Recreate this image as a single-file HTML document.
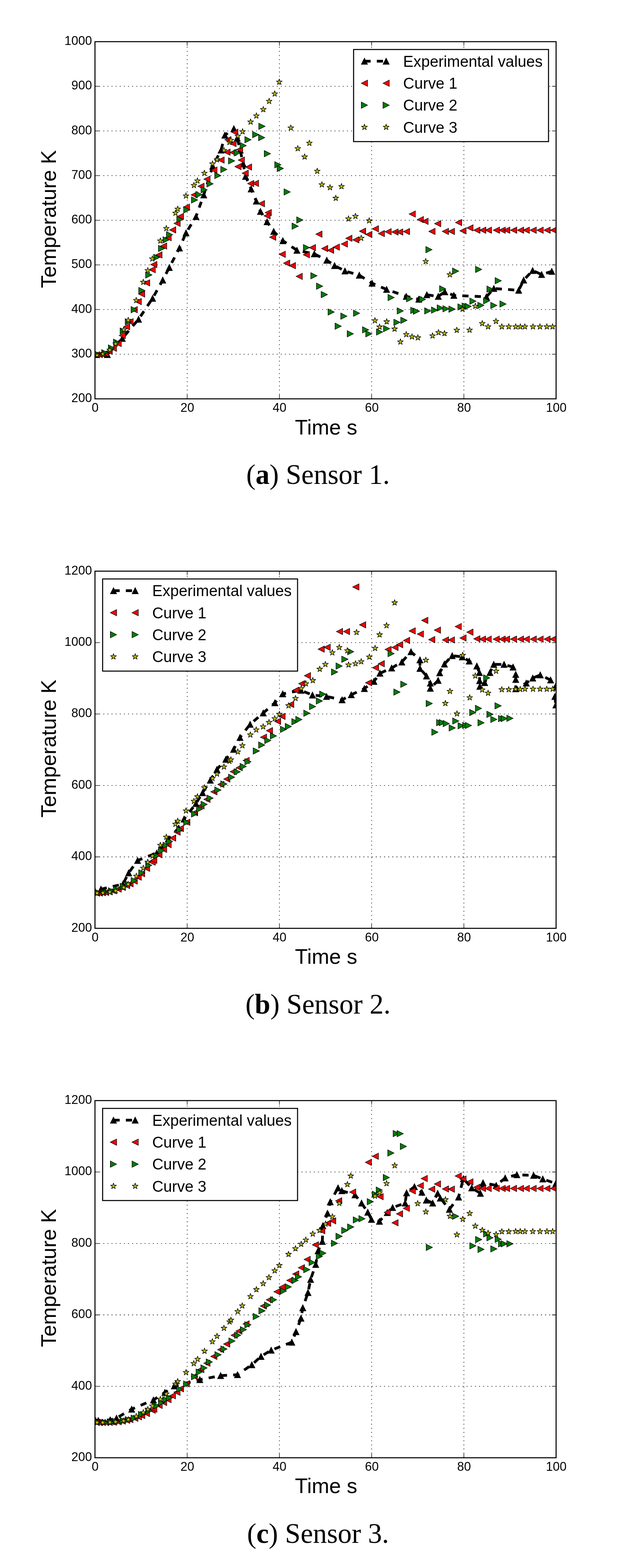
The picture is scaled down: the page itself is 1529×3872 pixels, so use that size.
<!DOCTYPE html>
<html lang="en"><head><meta charset="utf-8"><title>Temperature curves - Sensors 1 to 3</title>
<style>
html,body{margin:0;padding:0;background:#fff}
body{width:1529px;height:3872px;overflow:hidden}
svg{display:block}
text{font-family:"Liberation Sans",sans-serif;fill:#000}
.tk{font-size:30.6px}
.al{font-size:52px}
.lg{font-size:38.27px}
.cap{font-family:"Liberation Serif",serif;font-size:69px}
.sp{fill:none;stroke:#000;stroke-width:2.55;stroke-linecap:square;stroke-linejoin:miter}
.gr{fill:none;stroke:#000;stroke-width:1.28;stroke-dasharray:2.55 7.65}
.ti{fill:none;stroke:#000;stroke-width:1.28}
.ex{fill:none;stroke:#000;stroke-width:6.8;stroke-dasharray:15.3 15.3;stroke-linejoin:round}
.m{stroke:#000;stroke-width:1.28;stroke-linejoin:miter}
</style></head><body>
<svg width="1529" height="3872" viewBox="0 0 1529 3872">
<defs>
<polygon id="mu" class="m" fill="#000" points="0,-7.7 -7.7,7.7 7.7,7.7"/>
<polygon id="ml" class="m" fill="#f00" points="-7.7,0 7.7,-7.7 7.7,7.7"/>
<polygon id="mr" class="m" fill="#008000" points="7.7,0 -7.7,-7.7 -7.7,7.7"/>
<polygon id="ms" class="m" fill="#bfbf00" style="stroke-linejoin:round" points="0,-7.7 1.7,-2.4 7.3,-2.4 2.8,0.9 4.5,6.2 0,2.9 -4.5,6.2 -2.8,0.9 -7.3,-2.4 -1.7,-2.4"/>
</defs>
<rect x="0" y="0" width="1529" height="3872" fill="#fff"/>
<g id="chart1">
<clipPath id="cp0"><rect x="234.6" y="102.9" width="1139" height="882"/></clipPath>
<g clip-path="url(#cp0)">
<polyline class="ex" stroke-dashoffset="29.4" points="236,875.7 265.1,875.7 302.1,835.6 342.2,788.4 376.9,736.7 402,691.6 418.2,660.6 443.3,612.5 459.5,575.1 484.1,535 503.3,481.3 525.4,410.5 546.1,370.7 555.5,333.8 577.7,317.8 585.9,341.2 593.3,370.7 600.7,404.6 606.6,435.6 620.4,466.6 633.1,496.7 643.4,522.1 659.7,547.7 676,571.5 698.7,594.5 733.5,618.1 776.3,627 807.2,642.6 826.4,655.9 852.1,669.2 887.5,679.6 919,699.4 954.9,714.7 1003.5,731.9 1034.5,738.9 1054.3,728 1082.6,731.9 1098.8,720.6 1121,729.5 1201.5,733 1219.8,712.4 1281.2,716.8 1293.5,691.7 1315.7,668.1 1337.8,677.9 1362.9,670.2"/>
<use href="#mu" x="236" y="875.7"/><use href="#mu" x="265.1" y="875.7"/><use href="#mu" x="302.1" y="835.6"/><use href="#mu" x="342.2" y="788.4"/><use href="#mu" x="376.9" y="736.7"/><use href="#mu" x="402" y="691.6"/><use href="#mu" x="418.2" y="660.6"/><use href="#mu" x="443.3" y="612.5"/><use href="#mu" x="459.5" y="575.1"/><use href="#mu" x="484.1" y="535"/><use href="#mu" x="503.3" y="481.3"/><use href="#mu" x="525.4" y="410.5"/><use href="#mu" x="546.1" y="370.7"/><use href="#mu" x="555.5" y="333.8"/><use href="#mu" x="577.7" y="317.8"/><use href="#mu" x="585.9" y="341.2"/><use href="#mu" x="593.3" y="370.7"/><use href="#mu" x="600.7" y="404.6"/><use href="#mu" x="606.6" y="435.6"/><use href="#mu" x="620.4" y="466.6"/><use href="#mu" x="633.1" y="496.7"/><use href="#mu" x="643.4" y="522.1"/><use href="#mu" x="659.7" y="547.7"/><use href="#mu" x="676" y="571.5"/><use href="#mu" x="698.7" y="594.5"/><use href="#mu" x="733.5" y="618.1"/><use href="#mu" x="776.3" y="627"/><use href="#mu" x="807.2" y="642.6"/><use href="#mu" x="826.4" y="655.9"/><use href="#mu" x="852.1" y="669.2"/><use href="#mu" x="887.5" y="679.6"/><use href="#mu" x="919" y="699.4"/><use href="#mu" x="954.9" y="714.7"/><use href="#mu" x="1003.5" y="731.9"/><use href="#mu" x="1034.5" y="738.9"/><use href="#mu" x="1054.3" y="728"/><use href="#mu" x="1082.6" y="731.9"/><use href="#mu" x="1098.8" y="720.6"/><use href="#mu" x="1121" y="729.5"/><use href="#mu" x="1201.5" y="733"/><use href="#mu" x="1219.8" y="712.4"/><use href="#mu" x="1281.2" y="716.8"/><use href="#mu" x="1293.5" y="691.7"/><use href="#mu" x="1315.7" y="668.1"/><use href="#mu" x="1337.8" y="677.9"/><use href="#mu" x="1362.9" y="670.2"/>
<use href="#ml" x="238.4" y="876.2"/><use href="#ml" x="245.5" y="875.7"/><use href="#ml" x="253.3" y="875"/><use href="#ml" x="260.9" y="873.1"/><use href="#ml" x="269.8" y="867.6"/><use href="#ml" x="280.1" y="860"/><use href="#ml" x="291.9" y="848.2"/><use href="#ml" x="302.1" y="828.5"/><use href="#ml" x="312.8" y="807"/><use href="#ml" x="321.3" y="794.4"/><use href="#ml" x="331.5" y="764.7"/><use href="#ml" x="341.5" y="744.7"/><use href="#ml" x="349.8" y="726.1"/><use href="#ml" x="362.2" y="698.4"/><use href="#ml" x="376" y="665.9"/><use href="#ml" x="379.9" y="653.2"/><use href="#ml" x="392.6" y="629.6"/><use href="#ml" x="404.1" y="607.5"/><use href="#ml" x="415.3" y="586.9"/><use href="#ml" x="426.5" y="567.7"/><use href="#ml" x="437.4" y="551.5"/><use href="#ml" x="445.8" y="534.4"/><use href="#ml" x="460.5" y="511.4"/><use href="#ml" x="479.7" y="481.3"/><use href="#ml" x="496.5" y="460.1"/><use href="#ml" x="511.3" y="442.4"/><use href="#ml" x="528.4" y="420"/><use href="#ml" x="546.1" y="395.2"/><use href="#ml" x="560.8" y="375.7"/><use href="#ml" x="575.6" y="376.6"/><use href="#ml" x="591.8" y="369.2"/><use href="#ml" x="562.9" y="345.1"/><use href="#ml" x="575.6" y="354.5"/><use href="#ml" x="580" y="326.5"/><use href="#ml" x="596.2" y="395.2"/><use href="#ml" x="588" y="411.4"/><use href="#ml" x="613.9" y="412.6"/><use href="#ml" x="605.7" y="427.7"/><use href="#ml" x="619.2" y="453.3"/><use href="#ml" x="631" y="452.7"/><use href="#ml" x="645.8" y="502.9"/><use href="#ml" x="662.6" y="525"/><use href="#ml" x="659.7" y="533"/><use href="#ml" x="673.6" y="585.7"/><use href="#ml" x="697.2" y="627.9"/><use href="#ml" x="708.1" y="649.7"/><use href="#ml" x="722.3" y="655.9"/><use href="#ml" x="787.8" y="578.3"/><use href="#ml" x="771.8" y="611.4"/><use href="#ml" x="756.8" y="629.1"/><use href="#ml" x="801.9" y="613.7"/><use href="#ml" x="816.7" y="618.1"/><use href="#ml" x="830.8" y="610.2"/><use href="#ml" x="850.6" y="602.5"/><use href="#ml" x="861.8" y="588.6"/><use href="#ml" x="878.9" y="592.2"/><use href="#ml" x="895.7" y="570.9"/><use href="#ml" x="911.1" y="578.9"/><use href="#ml" x="927.3" y="565"/><use href="#ml" x="942" y="576.8"/><use href="#ml" x="739.1" y="682.6"/><use href="#ml" x="1100.3" y="571.4"/><use href="#ml" x="1115.1" y="571.4"/><use href="#ml" x="1132.8" y="549.6"/><use href="#ml" x="1143.7" y="569.9"/><use href="#ml" x="1160.8" y="562.8"/><use href="#ml" x="1177.9" y="568.4"/><use href="#ml" x="1192.4" y="568.4"/><use href="#ml" x="1206.5" y="568.4"/><use href="#ml" x="1226.3" y="568.4"/><use href="#ml" x="1240.4" y="568.4"/><use href="#ml" x="1251.7" y="568.4"/><use href="#ml" x="1268.8" y="568.4"/><use href="#ml" x="1285.9" y="568.4"/><use href="#ml" x="1300" y="568.4"/><use href="#ml" x="1317.1" y="568.4"/><use href="#ml" x="1334.2" y="568.4"/><use href="#ml" x="1351.4" y="568.4"/><use href="#ml" x="1367.3" y="568.4"/><use href="#ml" x="958.7" y="572.3"/><use href="#ml" x="975.8" y="572.9"/><use href="#ml" x="987.3" y="572.9"/><use href="#ml" x="1004.1" y="571.7"/><use href="#ml" x="1018.3" y="528.6"/><use href="#ml" x="1038.3" y="542.2"/><use href="#ml" x="1049.9" y="546.6"/><use href="#ml" x="1081.1" y="552.2"/><use href="#ml" x="1067" y="571.4"/>
<use href="#mr" x="240.7" y="875"/><use href="#mr" x="258.8" y="871"/><use href="#mr" x="275.3" y="859.2"/><use href="#mr" x="287.9" y="845.1"/><use href="#mr" x="304.4" y="817.5"/><use href="#mr" x="317" y="794.7"/><use href="#mr" x="331.5" y="764.7"/><use href="#mr" x="350.4" y="717.6"/><use href="#mr" x="367.5" y="678.9"/><use href="#mr" x="387.2" y="635.5"/><use href="#mr" x="399" y="613.4"/><use href="#mr" x="410.3" y="592.2"/><use href="#mr" x="418.8" y="579.5"/><use href="#mr" x="444.3" y="541.8"/><use href="#mr" x="461.4" y="518.2"/><use href="#mr" x="480.6" y="493.7"/><use href="#mr" x="491.5" y="480.5"/><use href="#mr" x="504.2" y="468.7"/><use href="#mr" x="518.7" y="453.9"/><use href="#mr" x="538.1" y="433.6"/><use href="#mr" x="552.9" y="418.5"/><use href="#mr" x="572.1" y="397.3"/><use href="#mr" x="585.9" y="377.5"/><use href="#mr" x="600.7" y="359.5"/><use href="#mr" x="612.5" y="345.1"/><use href="#mr" x="631.6" y="332.4"/><use href="#mr" x="646.4" y="339.7"/><use href="#mr" x="660.5" y="379.6"/><use href="#mr" x="646.9" y="311.9"/><use href="#mr" x="686.3" y="407.1"/><use href="#mr" x="692.2" y="415.9"/><use href="#mr" x="709.3" y="474"/><use href="#mr" x="740.6" y="543.2"/><use href="#mr" x="729.1" y="558.6"/><use href="#mr" x="757.1" y="611.4"/><use href="#mr" x="775.4" y="681.1"/><use href="#mr" x="789.5" y="706.8"/><use href="#mr" x="801" y="727.4"/><use href="#mr" x="818.1" y="770.5"/><use href="#mr" x="849.4" y="780.8"/><use href="#mr" x="880.7" y="773.5"/><use href="#mr" x="835.3" y="805.6"/><use href="#mr" x="865.3" y="824.2"/><use href="#mr" x="903.1" y="814.5"/><use href="#mr" x="911.1" y="824.2"/><use href="#mr" x="937.6" y="819.8"/><use href="#mr" x="954.9" y="811.5"/><use href="#mr" x="966.1" y="734.8"/><use href="#mr" x="980.5" y="795.9"/><use href="#mr" x="997.6" y="790.9"/><use href="#mr" x="988.8" y="767.8"/><use href="#mr" x="1011.8" y="737.8"/><use href="#mr" x="1022.1" y="766.4"/><use href="#mr" x="1028.6" y="768.4"/><use href="#mr" x="1043.4" y="739.2"/><use href="#mr" x="1056.6" y="767.8"/><use href="#mr" x="1073.5" y="765.8"/><use href="#mr" x="1087.6" y="760.5"/><use href="#mr" x="1093.5" y="713.3"/><use href="#mr" x="1101.8" y="762.5"/><use href="#mr" x="1116.5" y="763.4"/><use href="#mr" x="1138.7" y="758.1"/><use href="#mr" x="1149" y="756"/><use href="#mr" x="1156.4" y="756.6"/><use href="#mr" x="1168.2" y="743.7"/><use href="#mr" x="1187.9" y="754"/><use href="#mr" x="1202.1" y="742.8"/><use href="#mr" x="1210.4" y="713.9"/><use href="#mr" x="1219.8" y="754.3"/><use href="#mr" x="1242.5" y="750.7"/><use href="#mr" x="1125.4" y="669.6"/><use href="#mr" x="1182.3" y="665.2"/><use href="#mr" x="1230.7" y="693.2"/><use href="#mr" x="1059.6" y="616.5"/>
<use href="#ms" x="239.9" y="876.8"/><use href="#ms" x="254.1" y="874.2"/><use href="#ms" x="271.1" y="864.3"/><use href="#ms" x="285.6" y="849"/><use href="#ms" x="305.6" y="814.4"/><use href="#ms" x="316.7" y="790.8"/><use href="#ms" x="336.5" y="741.7"/><use href="#ms" x="353.9" y="696.9"/><use href="#ms" x="365.1" y="668"/><use href="#ms" x="376.3" y="639.1"/><use href="#ms" x="396.1" y="594.8"/><use href="#ms" x="410.8" y="564.2"/><use href="#ms" x="433.4" y="526.2"/><use href="#ms" x="439" y="516.2"/><use href="#ms" x="459.4" y="483.7"/><use href="#ms" x="479.1" y="457.7"/><use href="#ms" x="487.7" y="446.5"/><use href="#ms" x="504.8" y="427.7"/><use href="#ms" x="524.9" y="404.6"/><use href="#ms" x="536.1" y="394.3"/><use href="#ms" x="553.2" y="371.3"/><use href="#ms" x="566.7" y="351.5"/><use href="#ms" x="570.3" y="346.2"/><use href="#ms" x="587.4" y="336.2"/><use href="#ms" x="599.2" y="325"/><use href="#ms" x="619" y="301.1"/><use href="#ms" x="633.3" y="286"/><use href="#ms" x="650.4" y="270.3"/><use href="#ms" x="664.8" y="250"/><use href="#ms" x="678.6" y="231.7"/><use href="#ms" x="689.8" y="202.5"/><use href="#ms" x="718.4" y="315.8"/><use href="#ms" x="764.2" y="353.5"/><use href="#ms" x="735.5" y="366.8"/><use href="#ms" x="752.4" y="387.3"/><use href="#ms" x="783.6" y="422.7"/><use href="#ms" x="795.1" y="456"/><use href="#ms" x="815.2" y="463.1"/><use href="#ms" x="843.5" y="460.5"/><use href="#ms" x="829.4" y="489.4"/><use href="#ms" x="860.9" y="540.3"/><use href="#ms" x="878" y="534.1"/><use href="#ms" x="911.9" y="545"/><use href="#ms" x="892.2" y="588.1"/><use href="#ms" x="926.1" y="791.7"/><use href="#ms" x="937.6" y="807.4"/><use href="#ms" x="955.2" y="794.4"/><use href="#ms" x="974.6" y="812.4"/><use href="#ms" x="989.1" y="844.2"/><use href="#ms" x="1003.5" y="826"/><use href="#ms" x="1017.7" y="831.6"/><use href="#ms" x="1032.2" y="833.9"/><use href="#ms" x="1068.4" y="829.2"/><use href="#ms" x="1083.2" y="821.2"/><use href="#ms" x="1097.9" y="823.3"/><use href="#ms" x="1128.3" y="815.3"/><use href="#ms" x="1159.9" y="815"/><use href="#ms" x="1142.5" y="763.4"/><use href="#ms" x="1174.1" y="756"/><use href="#ms" x="1191.2" y="798.8"/><use href="#ms" x="1205.6" y="806.8"/><use href="#ms" x="1225.1" y="793.5"/><use href="#ms" x="1239.6" y="806.8"/><use href="#ms" x="1256.7" y="806.8"/><use href="#ms" x="1273.8" y="806.8"/><use href="#ms" x="1285.3" y="806.8"/><use href="#ms" x="1296.5" y="806.8"/><use href="#ms" x="1316.5" y="806.8"/><use href="#ms" x="1333.7" y="806.8"/><use href="#ms" x="1350.8" y="806.8"/><use href="#ms" x="1364.9" y="806.8"/><use href="#ms" x="1111.2" y="678.2"/><use href="#ms" x="1051.6" y="645.7"/>
</g>
<path class="gr" d="M462.4,984.9 V102.9 M690.2,984.9 V102.9 M918,984.9 V102.9 M1145.8,984.9 V102.9 M234.6,874.6 H1373.6 M234.6,764.4 H1373.6 M234.6,654.1 H1373.6 M234.6,543.9 H1373.6 M234.6,433.6 H1373.6 M234.6,323.4 H1373.6 M234.6,213.1 H1373.6"/>
<path class="ti" d="M234.6,984.9 v-10.2 M234.6,102.9 v10.2 M462.4,984.9 v-10.2 M462.4,102.9 v10.2 M690.2,984.9 v-10.2 M690.2,102.9 v10.2 M918,984.9 v-10.2 M918,102.9 v10.2 M1145.8,984.9 v-10.2 M1145.8,102.9 v10.2 M1373.6,984.9 v-10.2 M1373.6,102.9 v10.2 M234.6,984.9 h10.2 M1373.6,984.9 h-10.2 M234.6,874.6 h10.2 M1373.6,874.6 h-10.2 M234.6,764.4 h10.2 M1373.6,764.4 h-10.2 M234.6,654.1 h10.2 M1373.6,654.1 h-10.2 M234.6,543.9 h10.2 M1373.6,543.9 h-10.2 M234.6,433.6 h10.2 M1373.6,433.6 h-10.2 M234.6,323.4 h10.2 M1373.6,323.4 h-10.2 M234.6,213.1 h10.2 M1373.6,213.1 h-10.2 M234.6,102.9 h10.2 M1373.6,102.9 h-10.2"/>
<rect class="sp" x="234.6" y="102.9" width="1139" height="882"/>
<text class="tk" text-anchor="middle" x="235" y="1017.4">0</text>
<text class="tk" text-anchor="middle" x="462.8" y="1017.4">20</text>
<text class="tk" text-anchor="middle" x="690.6" y="1017.4">40</text>
<text class="tk" text-anchor="middle" x="918.4" y="1017.4">60</text>
<text class="tk" text-anchor="middle" x="1146.2" y="1017.4">80</text>
<text class="tk" text-anchor="middle" x="1374" y="1017.4">100</text>
<text class="tk" text-anchor="end" x="227.2" y="993.1">200</text>
<text class="tk" text-anchor="end" x="227.2" y="882.9">300</text>
<text class="tk" text-anchor="end" x="227.2" y="772.6">400</text>
<text class="tk" text-anchor="end" x="227.2" y="662.4">500</text>
<text class="tk" text-anchor="end" x="227.2" y="552.1">600</text>
<text class="tk" text-anchor="end" x="227.2" y="441.8">700</text>
<text class="tk" text-anchor="end" x="227.2" y="331.6">800</text>
<text class="tk" text-anchor="end" x="227.2" y="221.3">900</text>
<text class="tk" text-anchor="end" x="227.2" y="111.1">1000</text>
<text class="al" text-anchor="middle" x="805.6" y="1072.5">Time s</text>
<text class="al" text-anchor="middle" transform="translate(137.7,541) rotate(-90)">Temperature K</text>
<g transform="translate(873.4,122.2)">
<rect class="sp" x="0" y="0" width="481.5" height="227.5" fill="#fff" style="fill:#fff"/>
<path d="M26.8,29 H42.1 M57.4,29 H72.7" fill="none" stroke="#000" stroke-width="6.8"/>
<use href="#mu" x="26.8" y="29"/><use href="#mu" x="80.4" y="29"/>
<text class="lg" x="122.4" y="42.6">Experimental values</text>
<use href="#ml" x="26.8" y="83.3"/><use href="#ml" x="80.4" y="83.3"/>
<text class="lg" x="122.4" y="96.9">Curve 1</text>
<use href="#mr" x="26.8" y="137.6"/><use href="#mr" x="80.4" y="137.6"/>
<text class="lg" x="122.4" y="151.2">Curve 2</text>
<use href="#ms" x="26.8" y="191.9"/><use href="#ms" x="80.4" y="191.9"/>
<text class="lg" x="122.4" y="205.5">Curve 3</text>
</g>
<text class="cap" text-anchor="middle" x="785.5" y="1195.1">(<tspan font-weight="bold">a</tspan>) Sensor 1.</text>
</g>
<g id="chart2">
<clipPath id="cp1"><rect x="234.6" y="1410.4" width="1139" height="882"/></clipPath>
<g clip-path="url(#cp1)">
<polyline class="ex" stroke-dashoffset="16.1" points="236,2202.8 249.4,2195.7 303.7,2183.2 317.8,2155.6 339.9,2124.9 387.2,2106.4 415.7,2071.8 441.4,2044.7 454.6,2022.6 484.1,1984.2 500.4,1957.7 519.5,1926.7 535.8,1900.1 557.9,1875.1 577.1,1850.5 592.8,1821.1 617.8,1788.6 650.3,1760.6 678.9,1735.5 698.4,1713.4 743.2,1704.6 771.8,1716.4 806.6,1719.9 845,1728.2 867.7,1715.6 900.1,1700.3 923.7,1682.6 938.5,1662.5 967.4,1649.6 992.5,1634.8 1015.2,1609.4 1037.3,1629.5 1037.3,1650.7 1053.5,1669.3 1063,1687 1063,1699.7 1082.2,1680.2 1086,1661.4 1097.8,1639.8 1117,1619.2 1142,1622.1 1159,1632.5 1177.8,1644.7 1184.2,1660.8 1184.7,1680.9 1185.2,1695 1197.2,1685.6 1210.2,1660.8 1219.6,1640.7 1245.1,1640.7 1267.3,1647.3 1273.9,1665.5 1273.9,1678 1273.9,1700.9 1299.9,1686.8 1315.9,1674.5 1334.5,1666.7 1360,1679.2 1373,1693.8 1370.6,1719.8 1373,1741"/>
<use href="#mu" x="236" y="2202.8"/><use href="#mu" x="249.4" y="2195.7"/><use href="#mu" x="303.7" y="2183.2"/><use href="#mu" x="317.8" y="2155.6"/><use href="#mu" x="339.9" y="2124.9"/><use href="#mu" x="387.2" y="2106.4"/><use href="#mu" x="415.7" y="2071.8"/><use href="#mu" x="441.4" y="2044.7"/><use href="#mu" x="454.6" y="2022.6"/><use href="#mu" x="484.1" y="1984.2"/><use href="#mu" x="500.4" y="1957.7"/><use href="#mu" x="519.5" y="1926.7"/><use href="#mu" x="535.8" y="1900.1"/><use href="#mu" x="557.9" y="1875.1"/><use href="#mu" x="577.1" y="1850.5"/><use href="#mu" x="592.8" y="1821.1"/><use href="#mu" x="617.8" y="1788.6"/><use href="#mu" x="650.3" y="1760.6"/><use href="#mu" x="678.9" y="1735.5"/><use href="#mu" x="698.4" y="1713.4"/><use href="#mu" x="743.2" y="1704.6"/><use href="#mu" x="771.8" y="1716.4"/><use href="#mu" x="806.6" y="1719.9"/><use href="#mu" x="845" y="1728.2"/><use href="#mu" x="867.7" y="1715.6"/><use href="#mu" x="900.1" y="1700.3"/><use href="#mu" x="923.7" y="1682.6"/><use href="#mu" x="938.5" y="1662.5"/><use href="#mu" x="967.4" y="1649.6"/><use href="#mu" x="992.5" y="1634.8"/><use href="#mu" x="1015.2" y="1609.4"/><use href="#mu" x="1037.3" y="1629.5"/><use href="#mu" x="1037.3" y="1650.7"/><use href="#mu" x="1053.5" y="1669.3"/><use href="#mu" x="1063" y="1687"/><use href="#mu" x="1063" y="1699.7"/><use href="#mu" x="1082.2" y="1680.2"/><use href="#mu" x="1086" y="1661.4"/><use href="#mu" x="1097.8" y="1639.8"/><use href="#mu" x="1117" y="1619.2"/><use href="#mu" x="1142" y="1622.1"/><use href="#mu" x="1159" y="1632.5"/><use href="#mu" x="1177.8" y="1644.7"/><use href="#mu" x="1184.2" y="1660.8"/><use href="#mu" x="1184.7" y="1680.9"/><use href="#mu" x="1185.2" y="1695"/><use href="#mu" x="1197.2" y="1685.6"/><use href="#mu" x="1210.2" y="1660.8"/><use href="#mu" x="1219.6" y="1640.7"/><use href="#mu" x="1245.1" y="1640.7"/><use href="#mu" x="1267.3" y="1647.3"/><use href="#mu" x="1273.9" y="1665.5"/><use href="#mu" x="1273.9" y="1678"/><use href="#mu" x="1273.9" y="1700.9"/><use href="#mu" x="1299.9" y="1686.8"/><use href="#mu" x="1315.9" y="1674.5"/><use href="#mu" x="1334.5" y="1666.7"/><use href="#mu" x="1360" y="1679.2"/><use href="#mu" x="1373" y="1693.8"/><use href="#mu" x="1370.6" y="1719.8"/><use href="#mu" x="1373" y="1741"/>
<use href="#ml" x="238.4" y="2205.5"/><use href="#ml" x="245.5" y="2205.2"/><use href="#ml" x="253.3" y="2204.6"/><use href="#ml" x="260.9" y="2203.8"/><use href="#ml" x="269.8" y="2202.2"/><use href="#ml" x="280.1" y="2199.7"/><use href="#ml" x="291.9" y="2195.4"/><use href="#ml" x="302.1" y="2191.2"/><use href="#ml" x="312.8" y="2186.8"/><use href="#ml" x="321.3" y="2182.4"/><use href="#ml" x="331.5" y="2175.8"/><use href="#ml" x="341.4" y="2165.9"/><use href="#ml" x="349.8" y="2157.5"/><use href="#ml" x="362.2" y="2144.3"/><use href="#ml" x="376" y="2128.9"/><use href="#ml" x="379.8" y="2124.5"/><use href="#ml" x="392.6" y="2110.8"/><use href="#ml" x="404.1" y="2097.5"/><use href="#ml" x="415.3" y="2085.7"/><use href="#ml" x="426.5" y="2069.5"/><use href="#ml" x="437.4" y="2054.7"/><use href="#ml" x="445.6" y="2045.9"/><use href="#ml" x="461.4" y="2030.5"/><use href="#ml" x="480.6" y="2006.9"/><use href="#ml" x="496.5" y="1990.1"/><use href="#ml" x="511.3" y="1973.9"/><use href="#ml" x="528.4" y="1955.3"/><use href="#ml" x="545.5" y="1937"/><use href="#ml" x="560.3" y="1923.7"/><use href="#ml" x="576.2" y="1905.5"/><use href="#ml" x="590.9" y="1895.7"/><use href="#ml" x="608" y="1878"/><use href="#ml" x="650.9" y="1820.5"/><use href="#ml" x="665.6" y="1804.3"/><use href="#ml" x="685.7" y="1781.3"/><use href="#ml" x="696.6" y="1768.9"/><use href="#ml" x="718.1" y="1739.4"/><use href="#ml" x="730.5" y="1704.6"/><use href="#ml" x="745.3" y="1688.3"/><use href="#ml" x="759.4" y="1668.6"/><use href="#ml" x="793.4" y="1603.1"/><use href="#ml" x="808.2" y="1598.4"/><use href="#ml" x="838.6" y="1559.5"/><use href="#ml" x="856" y="1559.5"/><use href="#ml" x="895.8" y="1542.9"/><use href="#ml" x="879" y="1449.4"/><use href="#ml" x="927.6" y="1648.8"/><use href="#ml" x="941.8" y="1639.1"/><use href="#ml" x="958.6" y="1603.7"/><use href="#ml" x="975.7" y="1598.7"/><use href="#ml" x="987.2" y="1591.9"/><use href="#ml" x="1004.3" y="1581.6"/><use href="#ml" x="1018.2" y="1558"/><use href="#ml" x="1038.3" y="1565.8"/><use href="#ml" x="1049.3" y="1531.9"/><use href="#ml" x="1066.4" y="1579.6"/><use href="#ml" x="1080.5" y="1556"/><use href="#ml" x="1100.3" y="1580.2"/><use href="#ml" x="1115" y="1580.2"/><use href="#ml" x="1131.9" y="1547.2"/><use href="#ml" x="1143.7" y="1575.5"/><use href="#ml" x="1160.8" y="1561.1"/><use href="#ml" x="1177.9" y="1577.6"/><use href="#ml" x="1191.7" y="1578.2"/><use href="#ml" x="1205.9" y="1578.2"/><use href="#ml" x="1225.7" y="1578.2"/><use href="#ml" x="1240.4" y="1578.2"/><use href="#ml" x="1251.3" y="1578.2"/><use href="#ml" x="1268.4" y="1578.2"/><use href="#ml" x="1285.5" y="1578.2"/><use href="#ml" x="910.5" y="1686.1"/><use href="#ml" x="1300.1" y="1578.3"/><use href="#ml" x="1317.2" y="1578.3"/><use href="#ml" x="1334.1" y="1578.3"/><use href="#ml" x="1351.3" y="1578.3"/><use href="#ml" x="1366" y="1578.3"/>
<use href="#mr" x="240.7" y="2204.4"/><use href="#mr" x="258.8" y="2202.8"/><use href="#mr" x="275.3" y="2199.7"/><use href="#mr" x="287.9" y="2195.7"/><use href="#mr" x="304.4" y="2188.7"/><use href="#mr" x="317" y="2183.6"/><use href="#mr" x="331.5" y="2174.5"/><use href="#mr" x="350.4" y="2155.6"/><use href="#mr" x="367.5" y="2136.7"/><use href="#mr" x="387.2" y="2113.2"/><use href="#mr" x="399" y="2100.5"/><use href="#mr" x="410.3" y="2087.2"/><use href="#mr" x="418.8" y="2077.8"/><use href="#mr" x="443.9" y="2048.8"/><use href="#mr" x="461.4" y="2030.8"/><use href="#mr" x="480.6" y="2009.9"/><use href="#mr" x="493" y="1998.1"/><use href="#mr" x="504.2" y="1986.3"/><use href="#mr" x="518.7" y="1970.9"/><use href="#mr" x="538.1" y="1950.9"/><use href="#mr" x="552.9" y="1936.1"/><use href="#mr" x="572.1" y="1919.3"/><use href="#mr" x="585.9" y="1906"/><use href="#mr" x="600.7" y="1892.8"/><use href="#mr" x="612.5" y="1881"/><use href="#mr" x="633.1" y="1854.4"/><use href="#mr" x="646.5" y="1839.7"/><use href="#mr" x="661.5" y="1828.5"/><use href="#mr" x="675.4" y="1817.3"/><use href="#mr" x="700.4" y="1801"/><use href="#mr" x="712.2" y="1794"/><use href="#mr" x="728.5" y="1782.2"/><use href="#mr" x="738.2" y="1776.8"/><use href="#mr" x="758" y="1761.2"/><use href="#mr" x="772.1" y="1744.7"/><use href="#mr" x="788.9" y="1731.1"/><use href="#mr" x="797.2" y="1714.3"/><use href="#mr" x="826.4" y="1659.4"/><use href="#mr" x="837.7" y="1644.7"/><use href="#mr" x="851.8" y="1627.9"/><use href="#mr" x="866.3" y="1609.3"/><use href="#mr" x="966" y="1614"/><use href="#mr" x="1202.1" y="1674"/><use href="#mr" x="1230.2" y="1742.9"/><use href="#mr" x="1181.9" y="1749.3"/><use href="#mr" x="1167.7" y="1759.4"/><use href="#mr" x="1210.2" y="1763.9"/><use href="#mr" x="997.5" y="1689.7"/><use href="#mr" x="980.4" y="1709.1"/><use href="#mr" x="1060.3" y="1737.2"/><use href="#mr" x="1074.2" y="1808"/><use href="#mr" x="1086" y="1784.4"/><use href="#mr" x="1092.5" y="1784.4"/><use href="#mr" x="1102.2" y="1786.7"/><use href="#mr" x="1117" y="1797.6"/><use href="#mr" x="1125.8" y="1780.5"/><use href="#mr" x="1139.1" y="1792.3"/><use href="#mr" x="1150.4" y="1791.5"/><use href="#mr" x="1157.2" y="1791.5"/><use href="#mr" x="1188.2" y="1784.7"/><use href="#mr" x="1219.8" y="1776.5"/><use href="#mr" x="1238.9" y="1774.4"/><use href="#mr" x="1245.4" y="1774.4"/><use href="#mr" x="1259.6" y="1773.8"/>
<use href="#ms" x="239.9" y="2205.5"/><use href="#ms" x="254.1" y="2204.9"/><use href="#ms" x="271.1" y="2202.8"/><use href="#ms" x="285.6" y="2199.7"/><use href="#ms" x="305.6" y="2191.5"/><use href="#ms" x="316.7" y="2183.5"/><use href="#ms" x="336.7" y="2163.5"/><use href="#ms" x="354" y="2143.8"/><use href="#ms" x="365" y="2128.9"/><use href="#ms" x="376.8" y="2113.9"/><use href="#ms" x="396.1" y="2087.2"/><use href="#ms" x="410.8" y="2067.1"/><use href="#ms" x="433.4" y="2035"/><use href="#ms" x="439" y="2027.6"/><use href="#ms" x="459.4" y="2002.2"/><use href="#ms" x="479.1" y="1978.6"/><use href="#ms" x="487.7" y="1967.4"/><use href="#ms" x="504.8" y="1945"/><use href="#ms" x="524.9" y="1922"/><use href="#ms" x="536.1" y="1911.1"/><use href="#ms" x="553.2" y="1893.7"/><use href="#ms" x="566.7" y="1879.5"/><use href="#ms" x="570.3" y="1876"/><use href="#ms" x="587.4" y="1856.5"/><use href="#ms" x="598.7" y="1841.2"/><use href="#ms" x="618.4" y="1814.6"/><use href="#ms" x="632.9" y="1802.2"/><use href="#ms" x="650" y="1794.5"/><use href="#ms" x="664.5" y="1783.9"/><use href="#ms" x="678.6" y="1774.5"/><use href="#ms" x="690.1" y="1763.6"/><use href="#ms" x="712.8" y="1742.6"/><use href="#ms" x="729.9" y="1724.6"/><use href="#ms" x="744.1" y="1700.1"/><use href="#ms" x="755.6" y="1688.3"/><use href="#ms" x="772.7" y="1680.4"/><use href="#ms" x="789.8" y="1652.4"/><use href="#ms" x="803.7" y="1640.6"/><use href="#ms" x="820.9" y="1611.7"/><use href="#ms" x="838" y="1598.7"/><use href="#ms" x="858" y="1606.7"/><use href="#ms" x="861" y="1641.8"/><use href="#ms" x="878.1" y="1638.8"/><use href="#ms" x="892.2" y="1633.8"/><use href="#ms" x="912.3" y="1622.3"/><use href="#ms" x="880.7" y="1561.5"/><use href="#ms" x="926.5" y="1600.8"/><use href="#ms" x="937.7" y="1567.4"/><use href="#ms" x="954.8" y="1544.7"/><use href="#ms" x="974.8" y="1488.4"/><use href="#ms" x="1051.9" y="1630.1"/><use href="#ms" x="1143.1" y="1618"/><use href="#ms" x="1111.5" y="1707.1"/><use href="#ms" x="1174" y="1669"/><use href="#ms" x="1191.2" y="1703.5"/><use href="#ms" x="1205.6" y="1711.5"/><use href="#ms" x="1225.4" y="1657.2"/><use href="#ms" x="1239.5" y="1702.9"/><use href="#ms" x="1256.6" y="1702.9"/><use href="#ms" x="1273.7" y="1702.1"/><use href="#ms" x="1285" y="1702.1"/><use href="#ms" x="1160.2" y="1722.7"/><use href="#ms" x="1296.8" y="1701.6"/><use href="#ms" x="1316.6" y="1701.6"/><use href="#ms" x="1334.1" y="1701.6"/><use href="#ms" x="1350.6" y="1701.6"/><use href="#ms" x="1365.2" y="1701.6"/><use href="#ms" x="1100.1" y="1736.9"/><use href="#ms" x="1128.8" y="1762.5"/>
</g>
<path class="gr" d="M462.4,2292.4 V1410.4 M690.2,2292.4 V1410.4 M918,2292.4 V1410.4 M1145.8,2292.4 V1410.4 M234.6,2116 H1373.6 M234.6,1939.6 H1373.6 M234.6,1763.2 H1373.6 M234.6,1586.8 H1373.6"/>
<path class="ti" d="M234.6,2292.4 v-10.2 M234.6,1410.4 v10.2 M462.4,2292.4 v-10.2 M462.4,1410.4 v10.2 M690.2,2292.4 v-10.2 M690.2,1410.4 v10.2 M918,2292.4 v-10.2 M918,1410.4 v10.2 M1145.8,2292.4 v-10.2 M1145.8,1410.4 v10.2 M1373.6,2292.4 v-10.2 M1373.6,1410.4 v10.2 M234.6,2292.4 h10.2 M1373.6,2292.4 h-10.2 M234.6,2116 h10.2 M1373.6,2116 h-10.2 M234.6,1939.6 h10.2 M1373.6,1939.6 h-10.2 M234.6,1763.2 h10.2 M1373.6,1763.2 h-10.2 M234.6,1586.8 h10.2 M1373.6,1586.8 h-10.2 M234.6,1410.4 h10.2 M1373.6,1410.4 h-10.2"/>
<rect class="sp" x="234.6" y="1410.4" width="1139" height="882"/>
<text class="tk" text-anchor="middle" x="235" y="2324.9">0</text>
<text class="tk" text-anchor="middle" x="462.8" y="2324.9">20</text>
<text class="tk" text-anchor="middle" x="690.6" y="2324.9">40</text>
<text class="tk" text-anchor="middle" x="918.4" y="2324.9">60</text>
<text class="tk" text-anchor="middle" x="1146.2" y="2324.9">80</text>
<text class="tk" text-anchor="middle" x="1374" y="2324.9">100</text>
<text class="tk" text-anchor="end" x="227.2" y="2300.6">200</text>
<text class="tk" text-anchor="end" x="227.2" y="2124.2">400</text>
<text class="tk" text-anchor="end" x="227.2" y="1947.8">600</text>
<text class="tk" text-anchor="end" x="227.2" y="1771.4">800</text>
<text class="tk" text-anchor="end" x="227.2" y="1595">1000</text>
<text class="tk" text-anchor="end" x="227.2" y="1418.6">1200</text>
<text class="al" text-anchor="middle" x="805.6" y="2380">Time s</text>
<text class="al" text-anchor="middle" transform="translate(137.7,1848.5) rotate(-90)">Temperature K</text>
<g transform="translate(253.5,1429.7)">
<rect class="sp" x="0" y="0" width="481.5" height="227.5" fill="#fff" style="fill:#fff"/>
<path d="M26.8,29 H42.1 M57.4,29 H72.7" fill="none" stroke="#000" stroke-width="6.8"/>
<use href="#mu" x="26.8" y="29"/><use href="#mu" x="80.4" y="29"/>
<text class="lg" x="122.4" y="42.6">Experimental values</text>
<use href="#ml" x="26.8" y="83.3"/><use href="#ml" x="80.4" y="83.3"/>
<text class="lg" x="122.4" y="96.9">Curve 1</text>
<use href="#mr" x="26.8" y="137.6"/><use href="#mr" x="80.4" y="137.6"/>
<text class="lg" x="122.4" y="151.2">Curve 2</text>
<use href="#ms" x="26.8" y="191.9"/><use href="#ms" x="80.4" y="191.9"/>
<text class="lg" x="122.4" y="205.5">Curve 3</text>
</g>
<text class="cap" text-anchor="middle" x="785.5" y="2502.6">(<tspan font-weight="bold">b</tspan>) Sensor 2.</text>
</g>
<g id="chart3">
<clipPath id="cp2"><rect x="234.6" y="2717.8" width="1139" height="882"/></clipPath>
<g clip-path="url(#cp2)">
<polyline class="ex" stroke-dashoffset="2.4" points="236,3508 242.7,3507.8 272.2,3506.3 287.8,3501.9 325.3,3479.8 379,3457.1 407.3,3438.5 430.6,3422.3 493.6,3407 545,3397 586.6,3394.7 622,3370.2 644.7,3349.6 669.8,3334.2 720.8,3314.5 731.1,3288.5 743.5,3255.2 747.9,3229.5 760.8,3191.8 767.3,3159.4 779.9,3122.5 785.8,3088.6 796.2,3065.6 797.5,3027 809,2995.9 815.8,2967.8 835,2933.3 844.4,2940.4 876.8,2950.7 893.1,2970.8 908.4,2993.5 917.6,3011.2 937.3,3015.9 956.5,2994.4 969.8,2982"/>
<polyline class="ex" stroke-dashoffset="22.8" points="969.8,2982 1000.7,2970.8 1004.3,2945.7 1023.7,2930.4 1042,2944.2 1053.1,2963.6 1068.7,2970.9 1081.1,2946.8 1087.6,2958.6 1110,2986.3 1132.7,2956.2 1144.5,2910.5 1165.2,2933.5 1186.7,2946.8 1193.2,2920.8 1225.7,2927.3 1247.8,2909 1276.7,2901"/>
<polyline class="ex" stroke-dashoffset="16.9" points="1276.7,2901 1318,2902.5 1340.7,2911.4 1373,2922.5"/>
<use href="#mu" x="236" y="3508"/><use href="#mu" x="242.7" y="3507.8"/><use href="#mu" x="272.2" y="3506.3"/><use href="#mu" x="287.8" y="3501.9"/><use href="#mu" x="325.3" y="3479.8"/><use href="#mu" x="379" y="3457.1"/><use href="#mu" x="407.3" y="3438.5"/><use href="#mu" x="430.6" y="3422.3"/><use href="#mu" x="493.6" y="3407"/><use href="#mu" x="545" y="3397"/><use href="#mu" x="586.6" y="3394.7"/><use href="#mu" x="622" y="3370.2"/><use href="#mu" x="644.7" y="3349.6"/><use href="#mu" x="669.8" y="3334.2"/><use href="#mu" x="720.8" y="3314.5"/><use href="#mu" x="731.1" y="3288.5"/><use href="#mu" x="743.5" y="3255.2"/><use href="#mu" x="747.9" y="3229.5"/><use href="#mu" x="760.8" y="3191.8"/><use href="#mu" x="767.3" y="3159.4"/><use href="#mu" x="779.9" y="3122.5"/><use href="#mu" x="785.8" y="3088.6"/><use href="#mu" x="796.2" y="3065.6"/><use href="#mu" x="797.5" y="3027"/><use href="#mu" x="809" y="2995.9"/><use href="#mu" x="815.8" y="2967.8"/><use href="#mu" x="835" y="2933.3"/><use href="#mu" x="844.4" y="2940.4"/><use href="#mu" x="876.8" y="2950.7"/><use href="#mu" x="893.1" y="2970.8"/><use href="#mu" x="908.4" y="2993.5"/><use href="#mu" x="917.6" y="3011.2"/><use href="#mu" x="937.3" y="3015.9"/><use href="#mu" x="956.5" y="2994.4"/><use href="#mu" x="969.8" y="2982"/><use href="#mu" x="1000.7" y="2970.8"/><use href="#mu" x="1004.3" y="2945.7"/><use href="#mu" x="1023.7" y="2930.4"/><use href="#mu" x="1042" y="2944.2"/><use href="#mu" x="1053.1" y="2963.6"/><use href="#mu" x="1068.7" y="2970.9"/><use href="#mu" x="1081.1" y="2946.8"/><use href="#mu" x="1087.6" y="2958.6"/><use href="#mu" x="1110" y="2986.3"/><use href="#mu" x="1132.7" y="2956.2"/><use href="#mu" x="1144.5" y="2910.5"/><use href="#mu" x="1165.2" y="2933.5"/><use href="#mu" x="1186.7" y="2946.8"/><use href="#mu" x="1193.2" y="2920.8"/><use href="#mu" x="1225.7" y="2927.3"/><use href="#mu" x="1247.8" y="2909"/><use href="#mu" x="1276.7" y="2901"/><use href="#mu" x="1318" y="2902.5"/><use href="#mu" x="1340.7" y="2911.4"/><use href="#mu" x="1373" y="2922.5"/>
<use href="#ml" x="238" y="3512.8"/><use href="#ml" x="245.9" y="3512.8"/><use href="#ml" x="253" y="3512.8"/><use href="#ml" x="261" y="3512.8"/><use href="#ml" x="270.1" y="3512.5"/><use href="#ml" x="279.9" y="3511.9"/><use href="#ml" x="292" y="3511.1"/><use href="#ml" x="302" y="3509.3"/><use href="#ml" x="312.9" y="3507.2"/><use href="#ml" x="320.9" y="3505.5"/><use href="#ml" x="333" y="3502.2"/><use href="#ml" x="342.1" y="3498.7"/><use href="#ml" x="350.1" y="3495.4"/><use href="#ml" x="361.9" y="3490.4"/><use href="#ml" x="376" y="3482.4"/><use href="#ml" x="379.9" y="3479.8"/><use href="#ml" x="393.1" y="3470.4"/><use href="#ml" x="404.1" y="3463.3"/><use href="#ml" x="415" y="3456.2"/><use href="#ml" x="425.9" y="3446.8"/><use href="#ml" x="437.1" y="3437.9"/><use href="#ml" x="445.9" y="3429.4"/><use href="#ml" x="460.1" y="3417.3"/><use href="#ml" x="479.9" y="3398.7"/><use href="#ml" x="496.1" y="3381.9"/><use href="#ml" x="511.1" y="3366.2"/><use href="#ml" x="528.2" y="3349.6"/><use href="#ml" x="545" y="3332.7"/><use href="#ml" x="560" y="3318.9"/><use href="#ml" x="578.3" y="3297.3"/><use href="#ml" x="590.1" y="3287"/><use href="#ml" x="607.8" y="3269.3"/><use href="#ml" x="650.6" y="3225.1"/><use href="#ml" x="665.3" y="3209.7"/><use href="#ml" x="684.1" y="3189.7"/><use href="#ml" x="696.8" y="3178.5"/><use href="#ml" x="715.9" y="3161.7"/><use href="#ml" x="730.4" y="3146.1"/><use href="#ml" x="744.5" y="3130.5"/><use href="#ml" x="758.7" y="3110.1"/><use href="#ml" x="779.1" y="3074.1"/><use href="#ml" x="794.7" y="3039"/><use href="#ml" x="809.4" y="3020.7"/><use href="#ml" x="821.8" y="3014.8"/><use href="#ml" x="910" y="2870.3"/><use href="#ml" x="927.1" y="2855.2"/><use href="#ml" x="871.1" y="2943.7"/><use href="#ml" x="836.6" y="2965.3"/><use href="#ml" x="938.9" y="2954.9"/><use href="#ml" x="956.5" y="2993.8"/><use href="#ml" x="986.9" y="2997.6"/><use href="#ml" x="975.7" y="3019.5"/><use href="#ml" x="1003.7" y="2983.8"/><use href="#ml" x="1018.4" y="2940.7"/><use href="#ml" x="1038.2" y="2927.7"/><use href="#ml" x="1047.9" y="2910.3"/><use href="#ml" x="1066.4" y="2936.4"/><use href="#ml" x="1080.5" y="2923.7"/><use href="#ml" x="1100.3" y="2936.1"/><use href="#ml" x="1115" y="2936.4"/><use href="#ml" x="1131.9" y="2904"/><use href="#ml" x="1143.7" y="2911.4"/><use href="#ml" x="1160.8" y="2918.4"/><use href="#ml" x="1177.9" y="2931.7"/><use href="#ml" x="1191.7" y="2934.7"/><use href="#ml" x="1205.9" y="2934.7"/><use href="#ml" x="1225.7" y="2934.7"/><use href="#ml" x="1240.4" y="2934.7"/><use href="#ml" x="1251.3" y="2934.7"/><use href="#ml" x="1268.4" y="2934.7"/><use href="#ml" x="1285.5" y="2934.7"/><use href="#ml" x="1300" y="2934.8"/><use href="#ml" x="1317" y="2934.8"/><use href="#ml" x="1334" y="2934.8"/><use href="#ml" x="1351" y="2934.8"/><use href="#ml" x="1367" y="2934.8"/>
<use href="#mr" x="240.9" y="3512.2"/><use href="#mr" x="258.9" y="3512.2"/><use href="#mr" x="275.1" y="3511.7"/><use href="#mr" x="288.1" y="3510.8"/><use href="#mr" x="304.1" y="3507.8"/><use href="#mr" x="317" y="3505.8"/><use href="#mr" x="331.5" y="3501.9"/><use href="#mr" x="349.5" y="3493.1"/><use href="#mr" x="367.5" y="3484.2"/><use href="#mr" x="386.7" y="3471.8"/><use href="#mr" x="399" y="3463.6"/><use href="#mr" x="409.7" y="3456.2"/><use href="#mr" x="418.5" y="3451.8"/><use href="#mr" x="443.9" y="3430.2"/><use href="#mr" x="461" y="3417.8"/><use href="#mr" x="480.5" y="3399.6"/><use href="#mr" x="492" y="3388.3"/><use href="#mr" x="503.8" y="3378"/><use href="#mr" x="517" y="3363.3"/><use href="#mr" x="538.5" y="3345.4"/><use href="#mr" x="553.2" y="3331.3"/><use href="#mr" x="573" y="3311.5"/><use href="#mr" x="587.2" y="3297.3"/><use href="#mr" x="601.3" y="3283.5"/><use href="#mr" x="612.2" y="3271.4"/><use href="#mr" x="632.9" y="3251"/><use href="#mr" x="647.1" y="3236.9"/><use href="#mr" x="660.9" y="3222.7"/><use href="#mr" x="675.7" y="3209.7"/><use href="#mr" x="700.3" y="3188"/><use href="#mr" x="712.1" y="3177.7"/><use href="#mr" x="728.9" y="3161.7"/><use href="#mr" x="737.2" y="3152.9"/><use href="#mr" x="757.8" y="3135.2"/><use href="#mr" x="771.1" y="3117.5"/><use href="#mr" x="788.8" y="3102.4"/><use href="#mr" x="797.6" y="3094.5"/><use href="#mr" x="826.3" y="3070.3"/><use href="#mr" x="837.5" y="3052.9"/><use href="#mr" x="851.6" y="3038.4"/><use href="#mr" x="866.1" y="3029.9"/><use href="#mr" x="880.2" y="3012.5"/><use href="#mr" x="894.1" y="3009.5"/><use href="#mr" x="914.7" y="2967.6"/><use href="#mr" x="927.1" y="2949"/><use href="#mr" x="936.9" y="2938.7"/><use href="#mr" x="954.3" y="2907.7"/><use href="#mr" x="965.5" y="2847.3"/><use href="#mr" x="978.8" y="2799.2"/><use href="#mr" x="988.5" y="2799.5"/><use href="#mr" x="996.5" y="2831"/><use href="#mr" x="1125.4" y="3003.4"/><use href="#mr" x="1202.1" y="3047.1"/><use href="#mr" x="1182.3" y="3060.9"/><use href="#mr" x="1210.3" y="3056.5"/><use href="#mr" x="1230.7" y="3060.3"/><use href="#mr" x="1060.5" y="3080.3"/><use href="#mr" x="1168.1" y="3076.5"/><use href="#mr" x="1188.2" y="3085.3"/><use href="#mr" x="1219.8" y="3084.1"/><use href="#mr" x="1238.9" y="3071.4"/><use href="#mr" x="1245.4" y="3071.4"/><use href="#mr" x="1259.6" y="3071.4"/>
<use href="#ms" x="239.7" y="3512.8"/><use href="#ms" x="253.6" y="3512.8"/><use href="#ms" x="271.3" y="3512.2"/><use href="#ms" x="285.5" y="3511.1"/><use href="#ms" x="305.2" y="3508.7"/><use href="#ms" x="317" y="3505.5"/><use href="#ms" x="336.5" y="3497.5"/><use href="#ms" x="353.9" y="3488.1"/><use href="#ms" x="365.1" y="3480.4"/><use href="#ms" x="376.3" y="3471.8"/><use href="#ms" x="396.1" y="3455.3"/><use href="#ms" x="410.8" y="3442"/><use href="#ms" x="433.6" y="3417.8"/><use href="#ms" x="438.9" y="3411.4"/><use href="#ms" x="459.5" y="3389.2"/><use href="#ms" x="478.7" y="3367.1"/><use href="#ms" x="488.1" y="3356.5"/><use href="#ms" x="505.2" y="3336.3"/><use href="#ms" x="524.6" y="3313"/><use href="#ms" x="536.1" y="3299.7"/><use href="#ms" x="553.2" y="3279.9"/><use href="#ms" x="567.1" y="3264"/><use href="#ms" x="570.4" y="3259.9"/><use href="#ms" x="587.2" y="3238.6"/><use href="#ms" x="598.4" y="3224.5"/><use href="#ms" x="618.7" y="3201.5"/><use href="#ms" x="633.3" y="3184.4"/><use href="#ms" x="650.1" y="3169.7"/><use href="#ms" x="664.3" y="3154.6"/><use href="#ms" x="678.5" y="3137.8"/><use href="#ms" x="690" y="3124.9"/><use href="#ms" x="712.7" y="3097.4"/><use href="#ms" x="729.8" y="3083.3"/><use href="#ms" x="744" y="3072.3"/><use href="#ms" x="755.5" y="3062"/><use href="#ms" x="772.6" y="3047"/><use href="#ms" x="789.4" y="3038.4"/><use href="#ms" x="804.1" y="3022.5"/><use href="#ms" x="820.9" y="3004.5"/><use href="#ms" x="866.4" y="2903.9"/><use href="#ms" x="858.1" y="2924.9"/><use href="#ms" x="838.1" y="2971.2"/><use href="#ms" x="926.3" y="2953.5"/><use href="#ms" x="937.8" y="2945.2"/><use href="#ms" x="954.9" y="2922.5"/><use href="#ms" x="974.9" y="2878.2"/><use href="#ms" x="1031.7" y="2972"/><use href="#ms" x="1051.9" y="2992.5"/><use href="#ms" x="1100.3" y="2962.4"/><use href="#ms" x="1111.5" y="3003.4"/><use href="#ms" x="1128.6" y="3049.1"/><use href="#ms" x="1143.1" y="3010.5"/><use href="#ms" x="1160.2" y="2996.3"/><use href="#ms" x="1174" y="3027.6"/><use href="#ms" x="1191.2" y="3037.9"/><use href="#ms" x="1205.6" y="3045"/><use href="#ms" x="1225.4" y="3048.2"/><use href="#ms" x="1239.5" y="3041.4"/><use href="#ms" x="1256.6" y="3041.4"/><use href="#ms" x="1273.7" y="3040.9"/><use href="#ms" x="1285" y="3040.9"/><use href="#ms" x="1296.5" y="3041"/><use href="#ms" x="1316" y="3041"/><use href="#ms" x="1334" y="3041"/><use href="#ms" x="1351" y="3041"/><use href="#ms" x="1365" y="3041"/>
</g>
<path class="gr" d="M462.4,3599.8 V2717.8 M690.2,3599.8 V2717.8 M918,3599.8 V2717.8 M1145.8,3599.8 V2717.8 M234.6,3423.4 H1373.6 M234.6,3247 H1373.6 M234.6,3070.6 H1373.6 M234.6,2894.2 H1373.6"/>
<path class="ti" d="M234.6,3599.8 v-10.2 M234.6,2717.8 v10.2 M462.4,3599.8 v-10.2 M462.4,2717.8 v10.2 M690.2,3599.8 v-10.2 M690.2,2717.8 v10.2 M918,3599.8 v-10.2 M918,2717.8 v10.2 M1145.8,3599.8 v-10.2 M1145.8,2717.8 v10.2 M1373.6,3599.8 v-10.2 M1373.6,2717.8 v10.2 M234.6,3599.8 h10.2 M1373.6,3599.8 h-10.2 M234.6,3423.4 h10.2 M1373.6,3423.4 h-10.2 M234.6,3247 h10.2 M1373.6,3247 h-10.2 M234.6,3070.6 h10.2 M1373.6,3070.6 h-10.2 M234.6,2894.2 h10.2 M1373.6,2894.2 h-10.2 M234.6,2717.8 h10.2 M1373.6,2717.8 h-10.2"/>
<rect class="sp" x="234.6" y="2717.8" width="1139" height="882"/>
<text class="tk" text-anchor="middle" x="235" y="3632.3">0</text>
<text class="tk" text-anchor="middle" x="462.8" y="3632.3">20</text>
<text class="tk" text-anchor="middle" x="690.6" y="3632.3">40</text>
<text class="tk" text-anchor="middle" x="918.4" y="3632.3">60</text>
<text class="tk" text-anchor="middle" x="1146.2" y="3632.3">80</text>
<text class="tk" text-anchor="middle" x="1374" y="3632.3">100</text>
<text class="tk" text-anchor="end" x="227.2" y="3608">200</text>
<text class="tk" text-anchor="end" x="227.2" y="3431.6">400</text>
<text class="tk" text-anchor="end" x="227.2" y="3255.2">600</text>
<text class="tk" text-anchor="end" x="227.2" y="3078.8">800</text>
<text class="tk" text-anchor="end" x="227.2" y="2902.4">1000</text>
<text class="tk" text-anchor="end" x="227.2" y="2726">1200</text>
<text class="al" text-anchor="middle" x="805.6" y="3687.4">Time s</text>
<text class="al" text-anchor="middle" transform="translate(137.7,3155.9) rotate(-90)">Temperature K</text>
<g transform="translate(253.5,2737.1)">
<rect class="sp" x="0" y="0" width="481.5" height="227.5" fill="#fff" style="fill:#fff"/>
<path d="M26.8,29 H42.1 M57.4,29 H72.7" fill="none" stroke="#000" stroke-width="6.8"/>
<use href="#mu" x="26.8" y="29"/><use href="#mu" x="80.4" y="29"/>
<text class="lg" x="122.4" y="42.6">Experimental values</text>
<use href="#ml" x="26.8" y="83.3"/><use href="#ml" x="80.4" y="83.3"/>
<text class="lg" x="122.4" y="96.9">Curve 1</text>
<use href="#mr" x="26.8" y="137.6"/><use href="#mr" x="80.4" y="137.6"/>
<text class="lg" x="122.4" y="151.2">Curve 2</text>
<use href="#ms" x="26.8" y="191.9"/><use href="#ms" x="80.4" y="191.9"/>
<text class="lg" x="122.4" y="205.5">Curve 3</text>
</g>
<text class="cap" text-anchor="middle" x="785.5" y="3810">(<tspan font-weight="bold">c</tspan>) Sensor 3.</text>
</g>
</svg>
</body></html>
